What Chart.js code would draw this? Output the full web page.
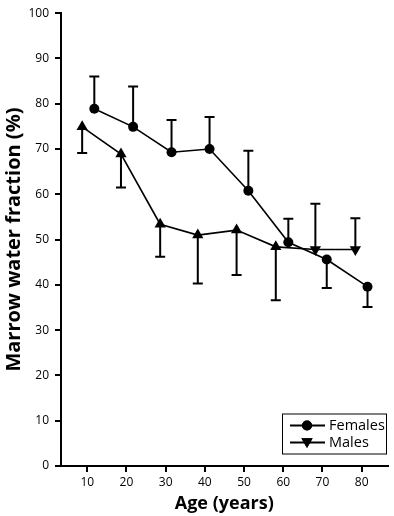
<!DOCTYPE html>
<html><head><meta charset="utf-8">
<script src="https://cdn.jsdelivr.net/npm/chart.js@4"></script>
<style>html,body{margin:0;padding:0;background:#fff}canvas{display:block}</style>
</head><body>
<canvas id="c" width="394" height="516"></canvas>
<script>
const seriesLabels = ['Females', 'Males'];
const femaleAges = [11.8, 21.7, 31.5, 41.2, 51.1, 61.3, 71.1, 81.5];
const femaleValues = [78.9, 74.9, 69.3, 70.0, 60.8, 49.4, 45.6, 39.6];
const femaleErrorEnds = [86.0, 83.8, 76.4, 77.1, 69.6, 54.6, 39.3, 35.1];
const maleAges = [8.7, 18.6, 28.6, 38.2, 48.1, 58.1, 68.2, 78.4];
const maleValues = [74.9, 68.9, 53.4, 51.0, 52.1, 48.4, 47.8, 47.8];
const maleErrorEnds = [69.1, 61.5, 46.2, 40.3, 42.2, 36.6, 57.9, 54.7];
const xTickValues = [10, 20, 30, 40, 50, 60, 70, 80];
const yTickValues = [0, 10, 20, 30, 40, 50, 60, 70, 80, 90, 100];
const xTitle = 'Age (years)';
const yTitle = 'Marrow water fraction (%)';

const FONT = "'Open Sans', sans-serif";

function pts(xs, ys) { return xs.map((x, i) => ({ x: x, y: ys[i] })); }

const errorBars = {
  id: 'errorBars',
  beforeDatasetsDraw(chart) {
    const { ctx, scales: { x, y } } = chart;
    ctx.save();
    ctx.strokeStyle = '#000';
    ctx.lineWidth = 2;
    chart.data.datasets.forEach(ds => {
      ds.data.forEach((p, i) => {
        const px = x.getPixelForValue(p.x);
        const py0 = y.getPixelForValue(p.y);
        const py1 = y.getPixelForValue(ds.errorEnds[i]);
        ctx.beginPath();
        ctx.moveTo(px, py0);
        ctx.lineTo(px, py1);
        ctx.moveTo(px - 5, py1);
        ctx.lineTo(px + 5, py1);
        ctx.stroke();
      });
    });
    ctx.restore();
  }
};

const boxLegend = {
  id: 'boxLegend',
  afterDraw(chart) {
    const { ctx, chartArea } = chart;
    const w = 104, h = 40;
    const left = chartArea.right - w - 1.5;
    const top = chartArea.bottom - 12.5 - h;
    ctx.save();
    ctx.fillStyle = '#fff';
    ctx.fillRect(left, top, w, h);
    ctx.strokeStyle = '#000';
    ctx.lineWidth = 1;
    ctx.strokeRect(left + 0.5, top + 0.5, w, h);
    chart.data.datasets.forEach((ds, i) => {
      const cy = top + 12 + i * 17;
      ctx.strokeStyle = '#000';
      ctx.lineWidth = 2;
      ctx.beginPath();
      ctx.moveTo(left + 8, cy);
      ctx.lineTo(left + 43, cy);
      ctx.stroke();
      const style = ds.pointStyle;
      const rot = i === 1 ? 180 : 0;
      const r = style === 'circle' ? 5 : 6.5;
      ctx.fillStyle = '#000';
      Chart.helpers.drawPoint(ctx, { pointStyle: style, rotation: rot, radius: r, borderWidth: 0 }, left + 25, cy + (style === 'circle' ? 0 : -1));
      ctx.fill();
      ctx.fillStyle = '#000';
      ctx.font = '14.5px ' + FONT;
      ctx.textBaseline = 'middle';
      ctx.textAlign = 'left';
      ctx.fillText(ds.label, left + 47, cy);
    });
    ctx.restore();
  }
};

new Chart(document.getElementById('c'), {
  type: 'scatter',
  data: {
    datasets: [
      {
        label: seriesLabels[0],
        data: pts(femaleAges, femaleValues),
        errorEnds: femaleErrorEnds,
        showLine: true,
        borderColor: '#000',
        borderWidth: 1.6,
        backgroundColor: '#000',
        pointStyle: 'circle',
        pointRadius: 5,
        pointBorderWidth: 0,
        pointBackgroundColor: '#000'
      },
      {
        label: seriesLabels[1],
        data: pts(maleAges, maleValues),
        errorEnds: maleErrorEnds,
        showLine: true,
        borderColor: '#000',
        borderWidth: 1.6,
        backgroundColor: '#000',
        pointStyle: 'triangle',
        pointRadius: 6.5,
        pointBorderWidth: 0,
        pointBackgroundColor: '#000',
        pointRotation: maleValues.map((v, i) => maleErrorEnds[i] > v ? 180 : 0)
      }
    ]
  },
  options: {
    responsive: false,
    animation: false,
    devicePixelRatio: 1,
    layout: { padding: { top: 5, right: 2, left: 0, bottom: 0 } },
    plugins: { legend: { display: false }, tooltip: { enabled: false } },
    scales: {
      x: {
        type: 'linear',
        min: 3.3,
        max: 86.6,
        afterBuildTicks(s) { s.ticks = xTickValues.map(v => ({ value: v })); },
        afterFit(s) { s.height = 50; },
        grid: { display: true, drawOnChartArea: false, drawTicks: true, tickLength: 6, color: '#000', lineWidth: 2 },
        border: { display: true, color: '#000', width: 2 },
        ticks: { color: '#000', font: { family: FONT, size: 12 }, padding: 3, maxRotation: 0 },
        title: { display: true, text: xTitle, color: '#000', font: { family: FONT, size: 18, weight: 'bold' }, padding: { top: 0, bottom: 1 } }
      },
      y: {
        type: 'linear',
        min: 0,
        max: 100,
        afterBuildTicks(s) { s.ticks = yTickValues.map(v => ({ value: v })); },
        afterFit(s) { s.width = 61; },
        grid: { display: true, drawOnChartArea: false, drawTicks: true, tickLength: 6, color: '#000', lineWidth: 2 },
        border: { display: true, color: '#000', width: 2 },
        ticks: { color: '#000', font: { family: FONT, size: 12 }, padding: 6 },
        title: { display: true, text: yTitle, color: '#000', font: { family: FONT, size: 20, weight: 'bold' }, padding: { top: 2, bottom: 0 } }
      }
    }
  },
  plugins: [errorBars, boxLegend]
});
</script>
</body></html>
